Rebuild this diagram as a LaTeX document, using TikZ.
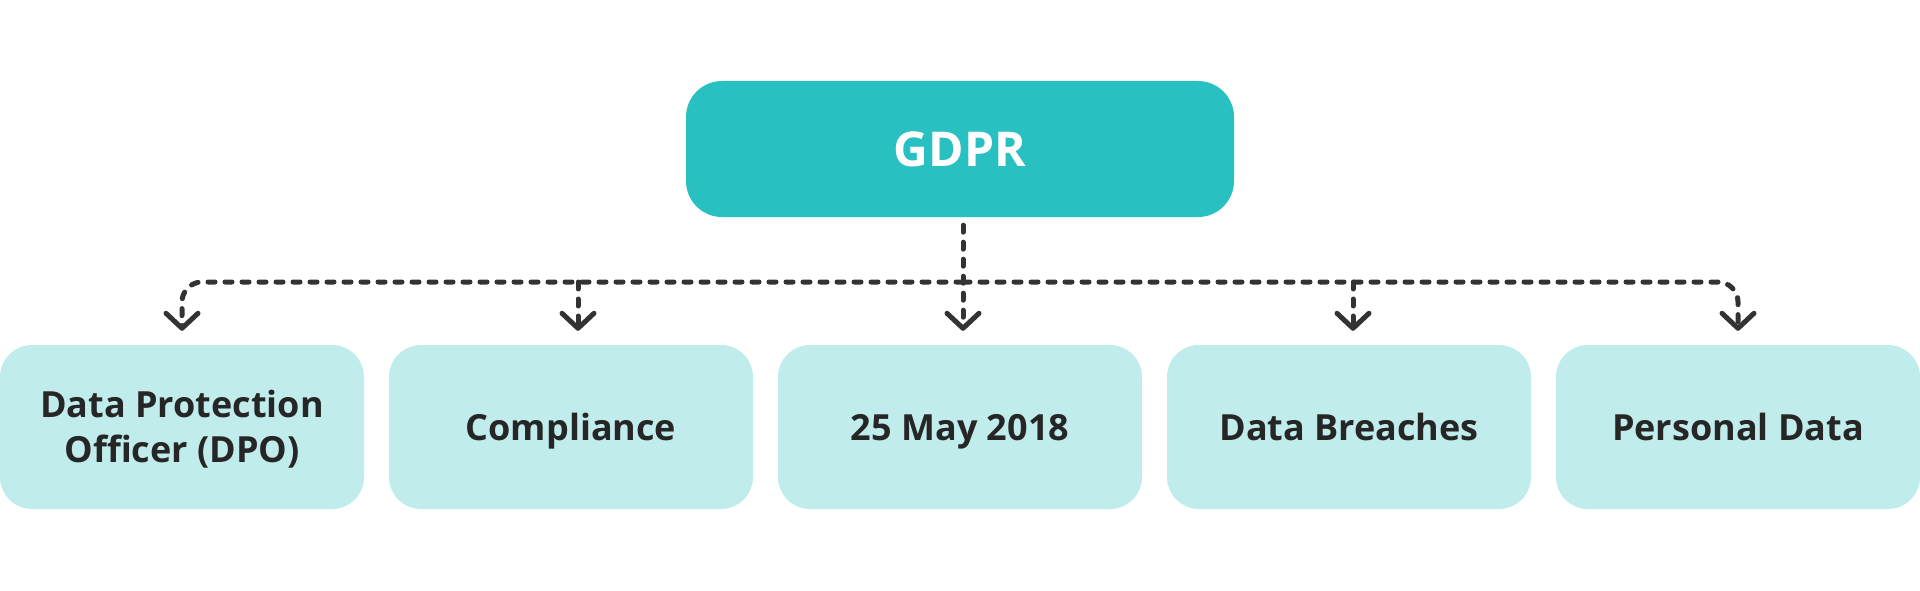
\documentclass[tikz,border=0pt]{standalone}
\usepackage{fontspec}
\setmainfont{Open Sans}
\usetikzlibrary{arrows.meta}
\definecolor{teal}{HTML}{29C0C2}
\definecolor{pale}{HTML}{C0ECEC}
\definecolor{ink}{HTML}{262626}
\definecolor{wire}{HTML}{333333}
\tikzset{
  topbox/.style={rectangle, rounded corners=36pt, fill=teal, minimum width=548pt, minimum height=136pt,
    inner sep=0pt, text=white, font=\bfseries\fontsize{48}{56}\selectfont, text height=35pt, text depth=0pt},
  leaf/.style={rectangle, rounded corners=32pt, fill=pale, minimum width=364pt, minimum height=164pt,
    inner sep=0pt, text=ink, align=center, font=\bfseries\fontsize{36}{45}\selectfont, text height=26pt, text depth=0pt},
  conn/.style={draw=wire, line width=5pt, line cap=round, dash pattern=on 7pt off 10pt,
    -{Straight Barb[length=15pt,width=32pt,line width=5pt,line cap=round,line join=round]}},
}
\begin{document}
\begin{tikzpicture}[x=1pt,y=-1pt]
\useasboundingbox (0,0) rectangle (1920,591);
\node[topbox] (g) at (960,149) {GDPR};
\node[leaf, text height=71pt] (b1) at (182,427) {Data Protection\\Officer (DPO)};
\node[leaf] (b2) at (571,427) {Compliance};
\node[leaf] (b3) at (960,427) {25 May 2018};
\node[leaf] (b4) at (1349,427) {Data Breaches};
\node[leaf] (b5) at (1738,427) {Personal Data};
\coordinate (hub) at (963,282);
\draw[conn, shorten <=8pt, shorten >=14pt] ([xshift=3pt]g.south) -- ([xshift=3pt]b3.north);
\draw[conn, rounded corners=20pt, shorten >=14pt] (hub) -- (b1.north |- hub) -- (b1.north);
\draw[conn, rounded corners=20pt, shorten >=14pt] (hub) -- (b5.north |- hub) -- (b5.north);
\draw[conn, shorten >=14pt] ([xshift=7pt]b2.north |- hub) -- ([xshift=7pt]b2.north);
\draw[conn, shorten >=14pt] ([xshift=4pt]b4.north |- hub) -- ([xshift=4pt]b4.north);
\end{tikzpicture}
\end{document}
